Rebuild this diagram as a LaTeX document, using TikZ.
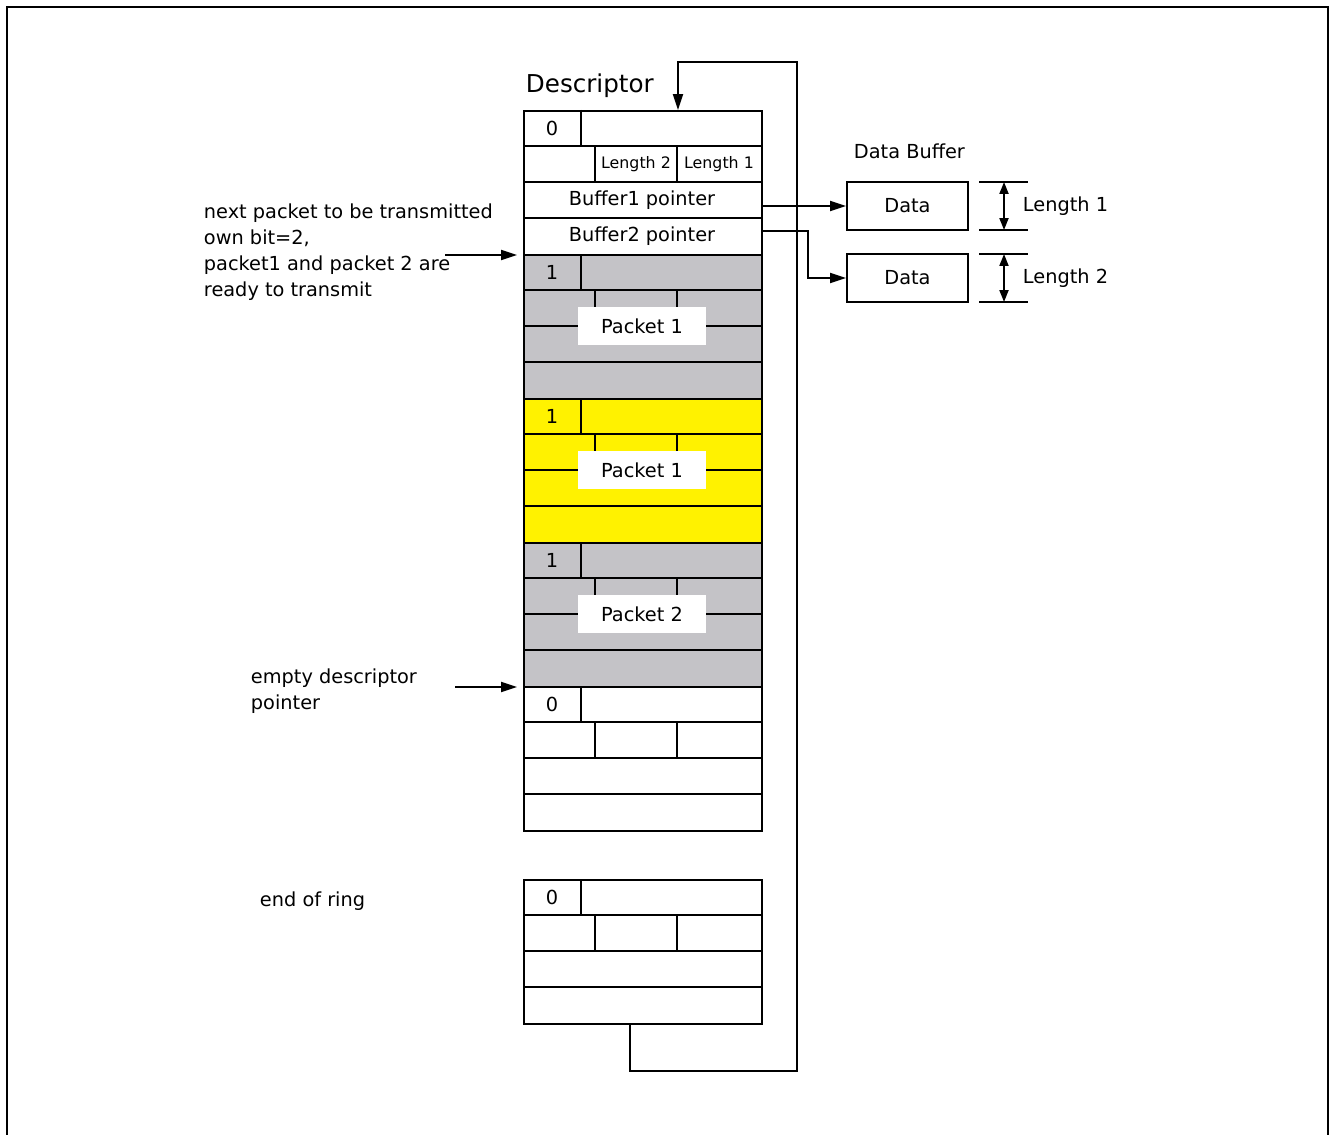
\documentclass[tikz,border=0pt]{standalone}
\usepackage{fontspec}
\setmainfont{DejaVu Sans}
\usetikzlibrary{arrows.meta}
\definecolor{descgray}{RGB}{196,195,199}
\begin{document}
\begin{tikzpicture}[x=0.02cm, y=-0.02cm, line width=1.1pt,
    every node/.style={inner sep=0pt, font=\fontsize{11}{14.7}\selectfont},
    desc/.style={draw, rectangle, anchor=north west, minimum width=4.76cm, minimum height=2.88cm},
    databox/.style={draw, rectangle, minimum width=2.42cm, minimum height=0.96cm},
    pktlabel/.style={fill=white, minimum width=2.56cm, minimum height=0.76cm},
    small/.style={font=\fontsize{9}{11}\selectfont},
    arr/.style={-{Triangle[length=0.32cm, width=0.2cm]}},
    dimarr/.style={{Triangle[length=0.24cm, width=0.18cm]}-{Triangle[length=0.24cm, width=0.18cm]}}]
    \useasboundingbox (0,0) rectangle (1331,1135);
    \draw (7,1135) -- (7,7) -- (1328,7) -- (1328,1135);
    % descriptor ring
    \node[desc] (d1) at (523,110) {};
    \node[desc, fill=descgray] (d2) at (523,254) {};
    \node[desc, fill=yellow] (d3) at (523,398) {};
    \node[desc, fill=descgray] (d4) at (523,542) {};
    \node[desc] (d5) at (523,686) {};
    \node[desc] (d6) at (523,879) {};
    \draw (581,110) -- (581,146) (523,146) -- (761,146) (595,146) -- (595,182) (677,146) -- (677,182) (523,182) -- (761,182) (523,218) -- (761,218);
    \draw (581,254) -- (581,290) (523,290) -- (761,290) (595,290) -- (595,326) (677,290) -- (677,326) (523,326) -- (761,326) (523,362) -- (761,362);
    \draw (581,398) -- (581,434) (523,434) -- (761,434) (595,434) -- (595,470) (677,434) -- (677,470) (523,470) -- (761,470) (523,506) -- (761,506);
    \draw (581,542) -- (581,578) (523,578) -- (761,578) (595,578) -- (595,614) (677,578) -- (677,614) (523,614) -- (761,614) (523,650) -- (761,650);
    \draw (581,686) -- (581,722) (523,722) -- (761,722) (595,722) -- (595,758) (677,722) -- (677,758) (523,758) -- (761,758) (523,794) -- (761,794);
    \draw (581,879) -- (581,915) (523,915) -- (761,915) (595,915) -- (595,951) (677,915) -- (677,951) (523,951) -- (761,951) (523,987) -- (761,987);
    \node[anchor=west, font=\fontsize{14}{16}\selectfont] (title) at (525,86) {Descriptor};
    \node (own1) at (552,128) {0};
    \node (own2) at (552,272) {1};
    \node (own3) at (552,416) {1};
    \node (own4) at (552,560) {1};
    \node (own5) at (552,704) {0};
    \node (own6) at (552,897) {0};
    \node[small] (len2) at (636,164) {Length 2};
    \node[small] (len1) at (719,164) {Length 1};
    \node (b1ptr) at (642,200) {Buffer1 pointer};
    \node (b2ptr) at (642,236) {Buffer2 pointer};
    \node[pktlabel] (pkt1) at (642,326) {Packet 1};
    \node[pktlabel] (pkt1b) at (642,470) {Packet 1};
    \node[pktlabel] (pkt2) at (642,614) {Packet 2};
    % data buffers
    \node[anchor=west] (dbuf) at (853,151) {Data Buffer};
    \node[databox] (data1) at (907.5,206) {Data};
    \node[databox] (data2) at (907.5,278) {Data};
    \draw (979,182) -- (1028,182) (979,230) -- (1028,230) (979,254) -- (1028,254) (979,302) -- (1028,302);
    \draw[dimarr] (1004,182) -- (1004,230);
    \draw[dimarr] (1004,254) -- (1004,302);
    \node[anchor=west] (size1) at (1022,206) {Length 1};
    \node[anchor=west] (size2) at (1022,278) {Length 2};
    \draw[arr] (d1.east |- data1.west) -- (data1.west);
    \draw[arr] (d1.east |- data1.south) -| ([xshift=-0.76cm]data2.west) -- (data2.west);
    % pointers on the left
    \node[anchor=west, align=left] (nextlbl) at (203,252) {next packet to be transmitted\\own bit=2,\\packet1 and packet 2 are\\ready to transmit};
    \coordinate (nextend) at (445,255);
    \draw[arr] (nextend) -- ([xshift=-0.12cm]nextend -| d2.west);
    \node[anchor=west, align=left] (emptylbl) at (250,691) {empty descriptor\\pointer};
    \coordinate (emptyend) at (455,687);
    \draw[arr] (emptyend) -- ([xshift=-0.12cm]emptyend -| d5.west);
    \node[anchor=west] (eor) at (259,901) {end of ring};
    % back to the first descriptor
    \coordinate (ringbot) at (797,1071);
    \coordinate (ringtop) at (797,62);
    \coordinate (ringin) at (678,62);
    \draw[arr] ([xshift=-0.26cm]d6.south) |- (ringbot) -- (ringtop) -- (ringin) -- (ringin |- d1.north);
\end{tikzpicture}
\end{document}
